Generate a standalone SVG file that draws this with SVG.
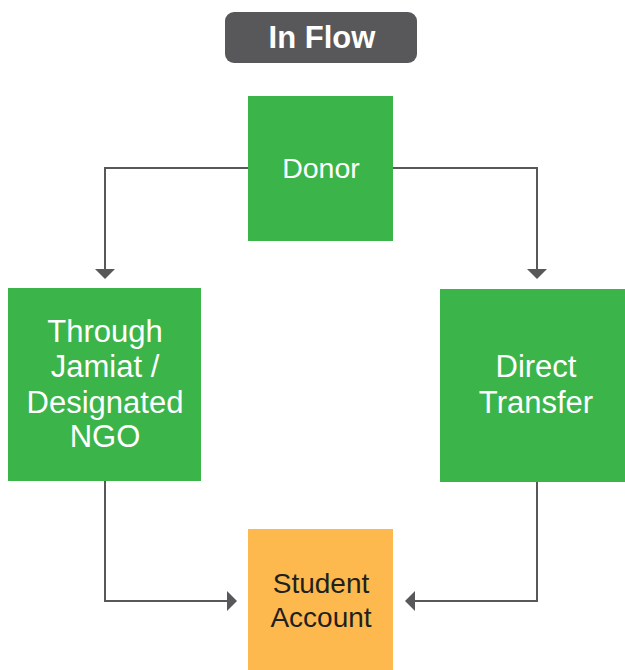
<svg xmlns="http://www.w3.org/2000/svg" width="625" height="670" viewBox="0 0 625 670">
<defs>
<style>
.g{fill:#3bb54a}
.o{fill:#fdb94d}
.t{font-family:"Liberation Sans",Arial,sans-serif;text-anchor:middle}
.w{fill:#ffffff}
.k{fill:#231f20}
.c{fill:none;stroke:#58585a;stroke-width:2}
</style>
</defs>
<rect width="625" height="670" fill="#ffffff"/>
<g id="title">
<rect x="225" y="12" width="192" height="51" rx="9" fill="#58585a"/>
<text class="t w" x="322" y="48" font-size="31" font-weight="bold">In Flow</text>
</g>
<g id="connectors">
<path class="c" d="M248,168 H105 V270"/>
<path d="M95,269 L115,269 L105,279 Z" fill="#58585a"/>
<path class="c" d="M393,168 H537 V270"/>
<path d="M527,269 L547,269 L537,279 Z" fill="#58585a"/>
<path class="c" d="M105,481 V601 H228"/>
<path d="M227,591 L237,601 L227,611 Z" fill="#58585a"/>
<path class="c" d="M537,482 V601 H414"/>
<path d="M415,591 L405,601 L415,611 Z" fill="#58585a"/>
</g>
<g id="donor">
<rect class="g" x="248" y="96" width="145" height="145"/>
<text class="t w" x="321" y="178" font-size="28.5">Donor</text>
</g>
<g id="jamiat">
<rect class="g" x="8" y="288" width="193" height="193"/>
<text class="t w" font-size="31"><tspan x="105" y="342">Through</tspan><tspan x="105" y="377">Jamiat /</tspan><tspan x="105" y="413">Designated</tspan><tspan x="105" y="447">NGO</tspan></text>
</g>
<g id="direct">
<rect class="g" x="440" y="289" width="185" height="193"/>
<text class="t w" font-size="31"><tspan x="536" y="377">Direct</tspan><tspan x="536" y="413">Transfer</tspan></text>
</g>
<g id="student">
<rect class="o" x="248" y="529" width="145" height="141"/>
<text class="t k" font-size="28"><tspan x="321" y="593">Student</tspan><tspan x="321" y="627">Account</tspan></text>
</g>
</svg>
